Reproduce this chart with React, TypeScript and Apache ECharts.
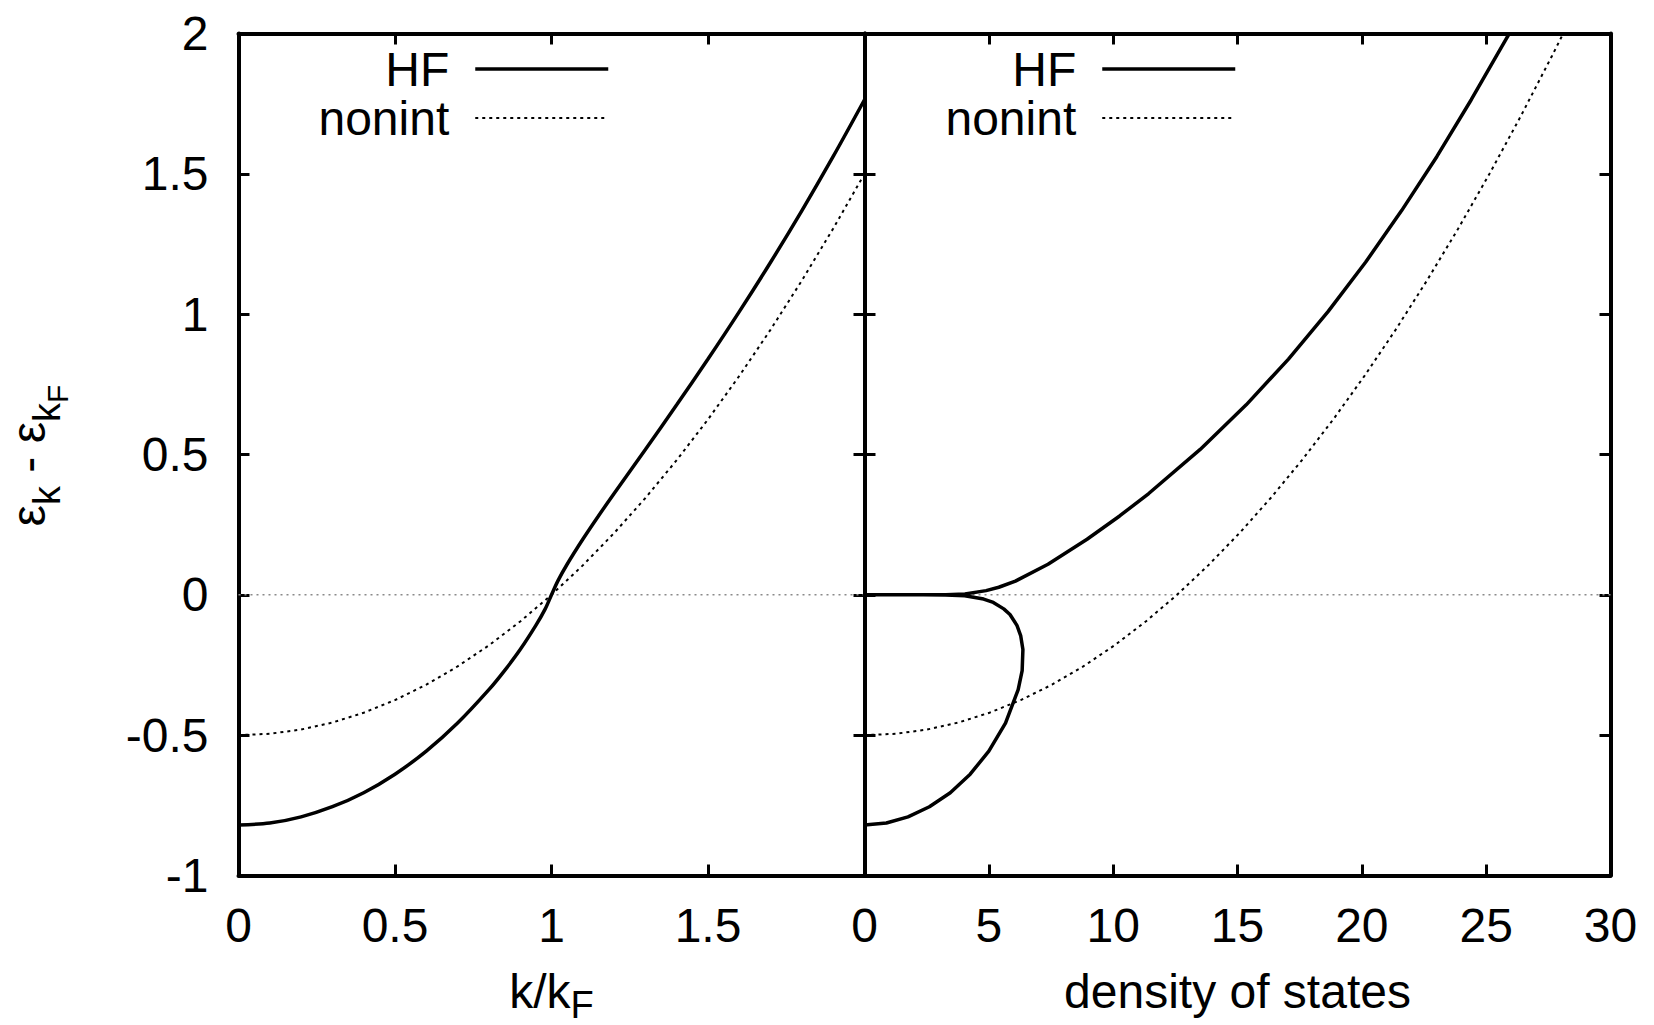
import React, { useEffect, useRef } from "react";
import * as echarts from "echarts";

// ---- data ----
// Left panel: energy vs k/kF
const leftHFk = [0, 0.1, 0.2, 0.3, 0.4, 0.5, 0.6, 0.7, 0.8, 0.85, 0.9, 0.95, 0.98, 1.0, 1.02, 1.05, 1.1, 1.15, 1.2, 1.3, 1.4, 1.5, 1.6, 1.7, 1.8, 1.9, 2.0];
const leftHFe = [-0.82, -0.813, -0.791, -0.755, -0.705, -0.639, -0.557, -0.457, -0.338, -0.27, -0.195, -0.109, -0.05, 0, 0.049, 0.109, 0.198, 0.281, 0.361, 0.518, 0.677, 0.84, 1.009, 1.185, 1.369, 1.562, 1.764];
const leftNonK = [0, 0.1, 0.2, 0.3, 0.4, 0.5, 0.6, 0.7, 0.8, 0.9, 1.0, 1.1, 1.2, 1.3, 1.4, 1.5, 1.6, 1.7, 1.8, 1.9, 2.0];
const leftNonE = [-0.5, -0.495, -0.48, -0.455, -0.42, -0.375, -0.32, -0.255, -0.18, -0.095, 0, 0.105, 0.22, 0.345, 0.48, 0.625, 0.78, 0.945, 1.12, 1.305, 1.5];

// Right panel: energy vs density of states
const rightHFdos = [0, 0.88, 1.75, 2.61, 3.45, 4.25, 5.0, 5.67, 6.18, 6.34, 6.37, 6.28, 6.13, 5.85, 5.6, 5.18, 4.79, 4.03, 3.26, 2.36, 0,
  2.36, 3.27, 4.04, 4.89, 5.4, 6.07, 7.38, 8.95, 10.26, 11.43, 13.5, 15.35, 17.05, 18.64, 20.15, 21.6, 23.02, 24.4, 25.76, 25.93];
const rightHFe = [-0.82, -0.813, -0.791, -0.755, -0.705, -0.639, -0.557, -0.457, -0.338, -0.27, -0.195, -0.145, -0.109, -0.07, -0.05, -0.027, -0.015, -0.003, -0.0004, 0, 0,
  0, 0.0004, 0.003, 0.015, 0.027, 0.049, 0.109, 0.198, 0.281, 0.361, 0.518, 0.677, 0.84, 1.009, 1.185, 1.369, 1.562, 1.764, 1.974, 2.0];
const rightNonDos = [0, 1.257, 2.513, 3.77, 5.027, 6.283, 7.54, 8.796, 10.053, 11.31, 12.566, 13.823, 15.08, 16.336, 17.593, 18.85, 20.106, 21.363, 22.619, 23.876, 25.133, 26.389, 27.646, 28.1];
const rightNonE = [-0.5, -0.495, -0.48, -0.455, -0.42, -0.375, -0.32, -0.255, -0.18, -0.095, 0, 0.105, 0.22, 0.345, 0.48, 0.625, 0.78, 0.945, 1.12, 1.305, 1.5, 1.705, 1.92, 2.0];

const zeroLeftX = [0, 2];
const zeroRightX = [0, 30];

const legendNames = ["HF", "nonint"];

const FONT = "'Liberation Sans', Arial, Helvetica, sans-serif";

const zip = (xs: number[], ys: number[]) => xs.map((x, i) => [x, ys[i]]);

export default function App() {
  const ref = useRef<HTMLDivElement>(null);
  useEffect(() => {
    document.body.style.margin = "0";
    const chart = echarts.init(ref.current!, null, { renderer: "svg" });
    const W = 1654;
    const gL = { left: 238.5, top: 33.5, width: 626, height: 842, containLabel: false, outerBoundsMode: "none" };
    const gR = { left: 864.5, top: 33.5, width: 746, height: 842, containLabel: false, outerBoundsMode: "none" };
    const axisLine = { show: true, onZero: false, lineStyle: { color: "#000", width: 4 } };
    const tick = { show: true, inside: true, length: 11, lineStyle: { color: "#000", width: 3 } };
    const label = { fontSize: 48, color: "#000", fontFamily: FONT };
    const hidden = { show: false };
    const richY = {
      m: { fontSize: 48, fontFamily: FONT, color: "#000", lineHeight: 88, verticalAlign: "middle" },
      s: { fontSize: 38, fontFamily: FONT, color: "#000", lineHeight: 38, verticalAlign: "bottom", padding: [0, 0, 7, 0] },
      ss: { fontSize: 30, fontFamily: FONT, color: "#000", lineHeight: 30, verticalAlign: "bottom", padding: [0, 0, 0, 0] },
    };
    const richX = {
      m: { fontSize: 48, fontFamily: FONT, color: "#000", lineHeight: 64, verticalAlign: "middle" },
      s: { fontSize: 38, fontFamily: FONT, color: "#000", lineHeight: 38, verticalAlign: "bottom", padding: [0, 0, 0, 0] },
    };
    const legendBase = (rightPx: number) => ({
      show: true,
      orient: "vertical",
      right: W - rightPx,
      top: 44.5,
      padding: 0,
      itemGap: 0,
      itemWidth: 133,
      itemHeight: 14,
      align: "right",
      selectedMode: false,
      itemStyle: { opacity: 0, borderWidth: 0 },
      data: [
        { name: legendNames[0], lineStyle: { width: 3.5 }, itemStyle: { opacity: 0, borderWidth: 0 } },
        { name: legendNames[1], lineStyle: { width: 2 }, itemStyle: { opacity: 0, borderWidth: 0 } },
      ],
      textStyle: { fontSize: 48, fontFamily: FONT, color: "#000", lineHeight: 49, padding: [0, 21, 0, 0] },
    });
    const option: any = {
      animation: false,
      backgroundColor: "#fff",
      legend: [legendBase(610), legendBase(1237)],
      grid: [gL, gR],
      xAxis: [
        {
          type: "value", gridIndex: 0, position: "bottom", min: 0, max: 2, interval: 0.5,
          axisLine, axisTick: tick, splitLine: hidden,
          axisLabel: { ...label, margin: 26, formatter: (v: number) => (v >= 2 ? "" : String(v)) },
          name: "{m|k/k}{s|F}", nameLocation: "middle", nameGap: 84,
          nameTextStyle: { rich: richX },
        },
        {
          type: "value", gridIndex: 0, position: "top", min: 0, max: 2, interval: 0.5,
          axisLine, axisTick: tick, splitLine: hidden, axisLabel: hidden,
        },
        {
          type: "value", gridIndex: 1, position: "bottom", min: 0, max: 30, interval: 5,
          axisLine, axisTick: tick, splitLine: hidden,
          axisLabel: { ...label, margin: 26 },
          name: "density of states", nameLocation: "middle", nameGap: 84,
          nameTextStyle: { fontSize: 48, fontFamily: FONT, color: "#000", lineHeight: 64 },
        },
        {
          type: "value", gridIndex: 1, position: "top", min: 0, max: 30, interval: 5,
          axisLine, axisTick: tick, splitLine: hidden, axisLabel: hidden,
        },
      ],
      yAxis: [
        {
          type: "value", gridIndex: 0, position: "left", min: -1, max: 2, interval: 0.5,
          axisLine, axisTick: tick, splitLine: hidden,
          axisLabel: { ...label, margin: 30 },
          name: "{m|ε}{s|k}{m| - ε}{s|k}{ss|F}", nameLocation: "middle", nameRotate: 90, nameGap: 166,
          nameTextStyle: { rich: richY, padding: [0, 2, 0, 0] },
        },
        {
          type: "value", gridIndex: 0, position: "right", min: -1, max: 2, interval: 0.5,
          axisLine, axisTick: tick, splitLine: hidden, axisLabel: hidden,
        },
        {
          type: "value", gridIndex: 1, position: "left", min: -1, max: 2, interval: 0.5,
          axisLine, axisTick: tick, splitLine: hidden, axisLabel: hidden,
        },
        {
          type: "value", gridIndex: 1, position: "right", min: -1, max: 2, interval: 0.5,
          axisLine, axisTick: tick, splitLine: hidden, axisLabel: hidden,
        },
      ],
      series: [
        {
          name: "zeroL", type: "line", xAxisIndex: 0, yAxisIndex: 0, symbol: "none", silent: true,
          data: zip(zeroLeftX, [0, 0]), lineStyle: { color: "#8a8a8a", width: 1.5, type: [2, 4] }, z: 1,
        },
        {
          name: "zeroR", type: "line", xAxisIndex: 2, yAxisIndex: 2, symbol: "none", silent: true,
          data: zip(zeroRightX, [0, 0]), lineStyle: { color: "#8a8a8a", width: 1.5, type: [2, 4] }, z: 1,
        },
        {
          name: legendNames[1], type: "line", xAxisIndex: 0, yAxisIndex: 0, symbol: "none", smooth: false,
          data: zip(leftNonK, leftNonE), lineStyle: { color: "#000", width: 2, type: [3, 4] }, itemStyle: { color: "#000" },
        },
        {
          name: legendNames[0], type: "line", xAxisIndex: 0, yAxisIndex: 0, symbol: "none", smooth: 0.3,
          data: zip(leftHFk, leftHFe), lineStyle: { color: "#000", width: 3.5 }, itemStyle: { color: "#000" },
        },
        {
          name: legendNames[1], type: "line", xAxisIndex: 2, yAxisIndex: 2, symbol: "none", smooth: false,
          data: zip(rightNonDos, rightNonE), lineStyle: { color: "#000", width: 2, type: [3, 4] }, itemStyle: { color: "#000" },
        },
        {
          name: legendNames[0], type: "line", xAxisIndex: 2, yAxisIndex: 2, symbol: "none", smooth: false,
          data: zip(rightHFdos, rightHFe), lineStyle: { color: "#000", width: 3.5, join: "round" }, itemStyle: { color: "#000" },
        },
      ],
    };
    chart.setOption(option);
    return () => chart.dispose();
  }, []);
  return <div ref={ref} style={{ position: "fixed", left: 0, top: 0, width: 1654, height: 1025 }} />;
}
